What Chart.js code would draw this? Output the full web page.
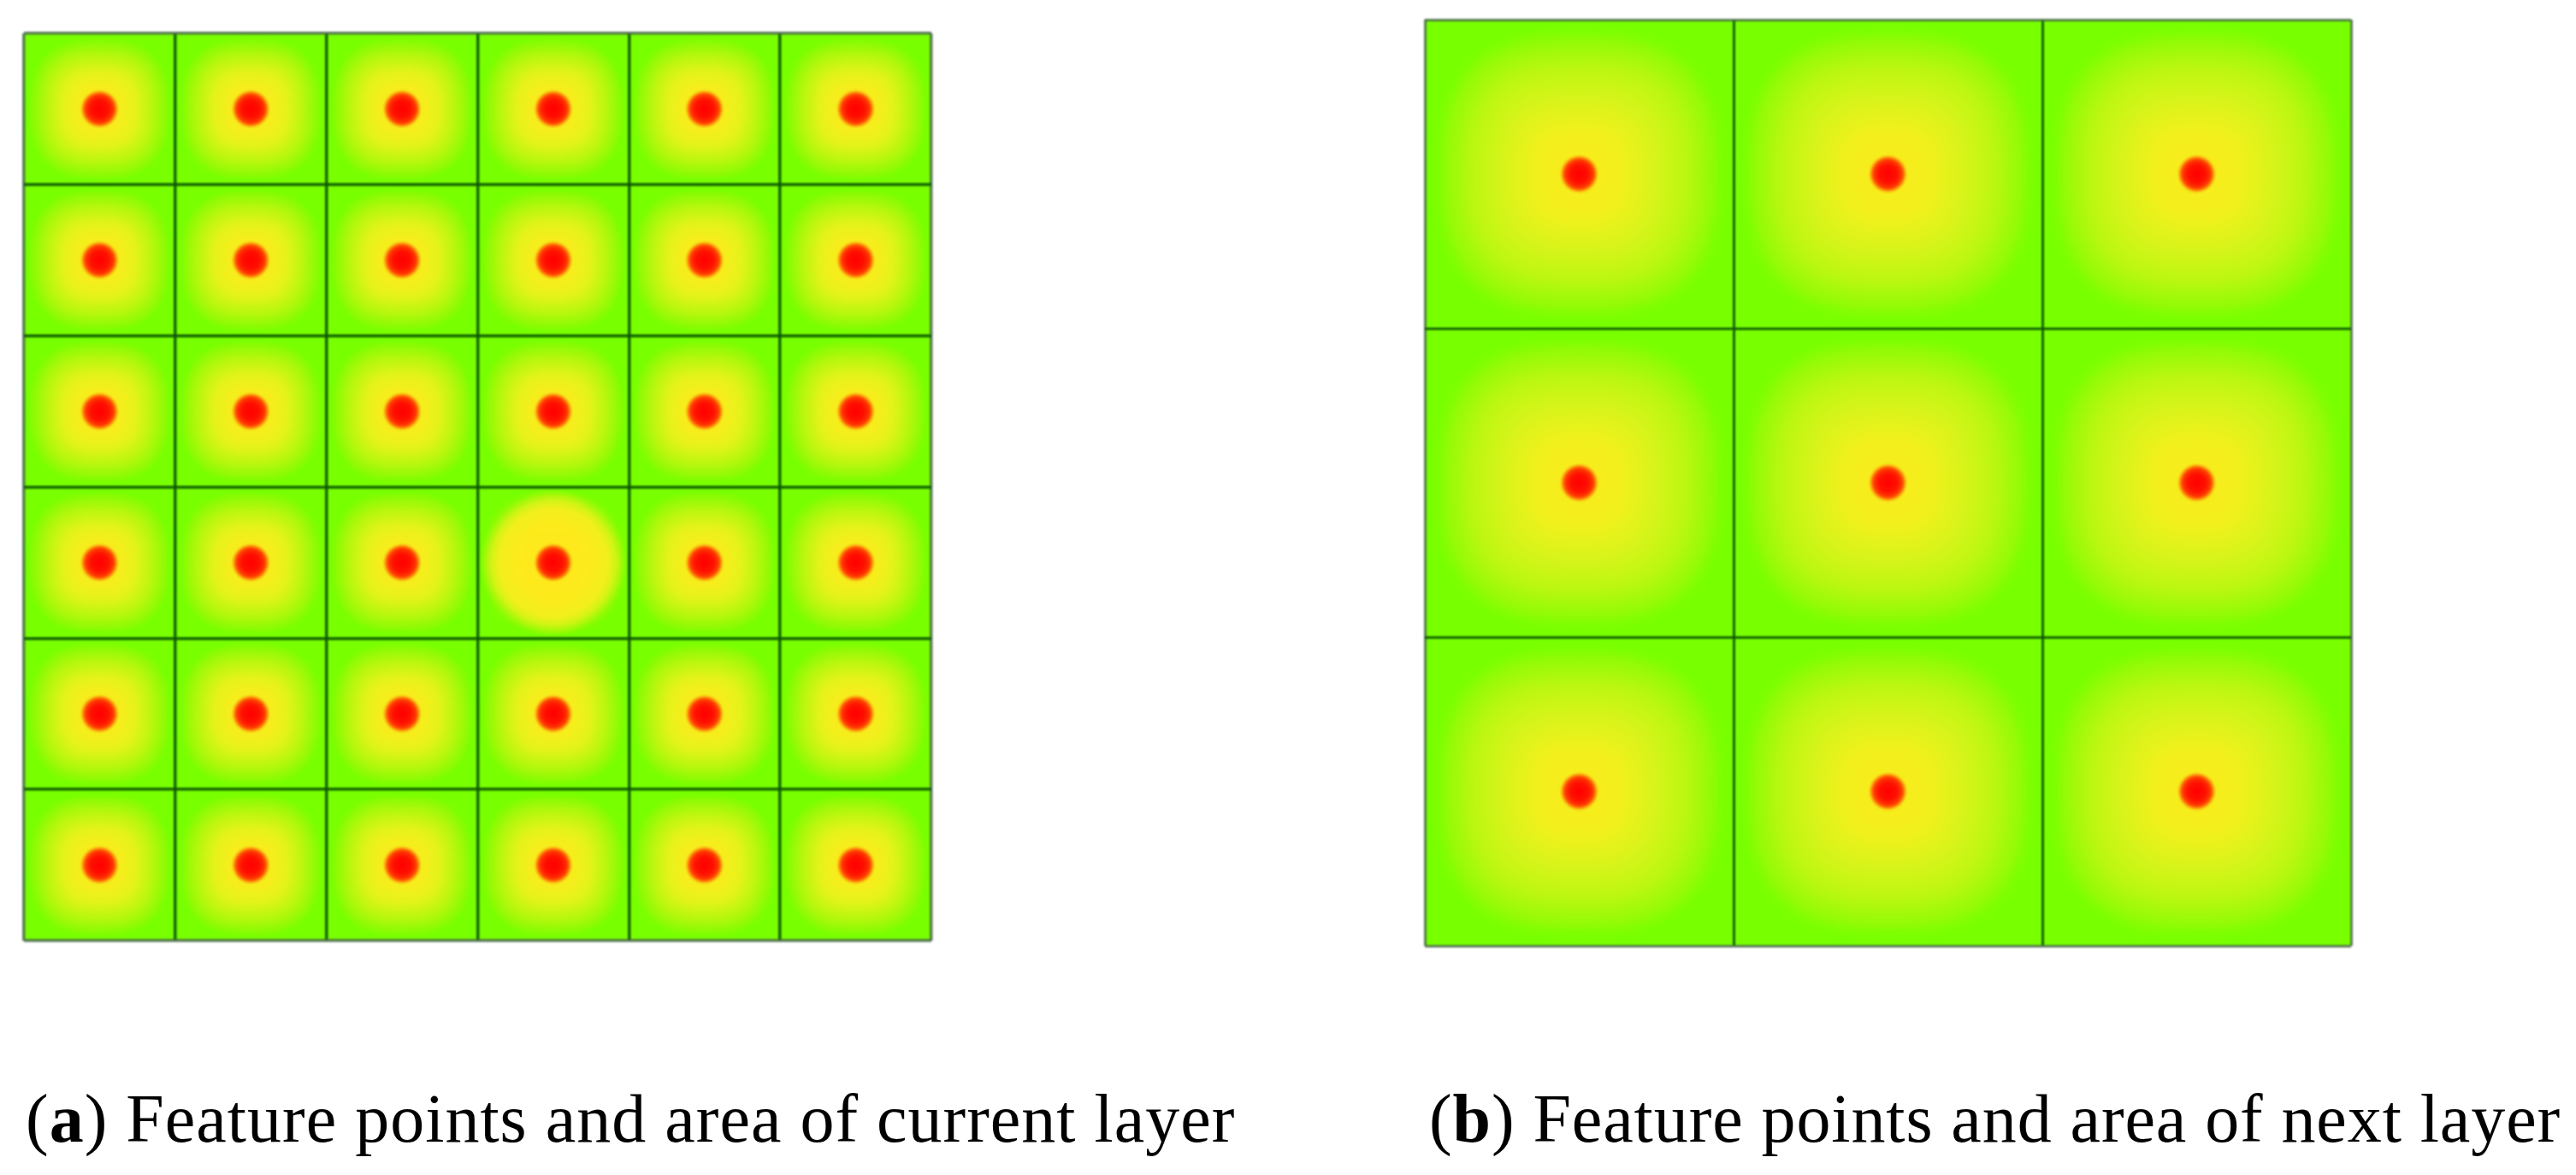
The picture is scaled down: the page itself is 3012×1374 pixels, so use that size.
<!DOCTYPE html>
<html>
<head>
<meta charset="utf-8">
<script src="https://cdn.jsdelivr.net/npm/chart.js@4"></script>
<style>
html,body{margin:0;padding:0;background:#fff;width:3012px;height:1374px;overflow:hidden}
canvas{position:absolute;filter:blur(1.1px)}
.cap{position:absolute;top:1258px;height:100px;line-height:100px;font-family:"Liberation Serif",serif;font-size:80px;color:#000;white-space:nowrap}
</style>
</head>
<body>
<canvas id="a"></canvas>
<canvas id="b"></canvas>
<div class="cap" id="capA" style="left:30px;letter-spacing:1px">(<b>a</b>) Feature points and area of current layer</div>
<div class="cap" id="capB" style="left:1671px;letter-spacing:0.9px">(<b>b</b>) Feature points and area of next layer</div>
<script>
// Data: feature-point cell centres in grid units
const columnsA = [0.5, 1.5, 2.5, 3.5, 4.5, 5.5];
const rowsA    = [0.5, 1.5, 2.5, 3.5, 4.5, 5.5];
const hotColA  = [3.5];
const hotRowA  = [3.5];
const columnsB = [0.5, 1.5, 2.5];
const rowsB    = [0.5, 1.5, 2.5];
const cellsA   = 6;
const cellsB   = 3;

function cross(cols, rows){ const out=[]; rows.forEach(y=>cols.forEach(x=>out.push({x,y}))); return out; }

// colour ramp sprite, contours are a rounded square when p > 2
function sprite(size, p, stops){
  const c=document.createElement('canvas'); c.width=c.height=size;
  const g=c.getContext('2d'), img=g.createImageData(size,size), r=size/2;
  for(let j=0;j<size;j++) for(let i=0;i<size;i++){
    const dx=Math.abs(i+0.5-r)/r, dy=Math.abs(j+0.5-r)/r;
    const d=Math.pow(Math.pow(dx,p)+Math.pow(dy,p),1/p);
    const k=(j*size+i)*4;
    if(d>=1){ img.data[k+3]=0; continue; }
    let s=0; while(s<stops.length-2 && d>stops[s+1][0]) s++;
    const a=stops[s], b=stops[s+1], t=(d-a[0])/(b[0]-a[0]);
    for(let n=0;n<4;n++) img.data[k+n]=a[1][n]+(b[1][n]-a[1][n])*t;
  }
  g.putImageData(img,0,0);
  return c;
}
const glowA=sprite(172,2.7,[[0,[253,234,28,255]],[0.3,[246,238,28,255]],[0.5,[228,243,26,255]],[0.72,[184,247,14,255]],[0.9,[140,251,4,255]],[1,[122,255,0,0]]]);
const hotA =sprite(176,2,[[0,[255,232,28,255]],[0.5,[253,235,28,255]],[0.72,[242,239,28,255]],[0.82,[212,244,22,255]],[0.9,[168,248,10,255]],[1,[122,255,0,0]]]);
const glowB=sprite(354,2.7,[[0,[251,234,28,255]],[0.28,[242,240,28,255]],[0.5,[216,244,26,255]],[0.7,[188,247,17,255]],[0.88,[146,251,6,255]],[1,[122,255,0,0]]]);
const dot  =sprite(46,2,[[0,[255,0,0,255]],[0.45,[255,16,0,255]],[0.72,[255,60,0,255]],[0.86,[253,138,8,220]],[1,[253,220,28,0]]]);

const paintBg={id:'paintBg',beforeDatasetsDraw(ch){
  const a=ch.chartArea,c=ch.ctx; c.save(); c.fillStyle='#78ff00'; c.fillRect(a.left,a.top,a.width,a.height); c.restore();
}};

function axis(n, reverse, lineW){
  return {type:'linear',min:0,max:n,reverse,
    ticks:{display:false,stepSize:1},
    border:{display:false},
    grid:{z:1,drawTicks:false,lineWidth:lineW,
      color:c=>(c.tick.value===0||c.tick.value===n)?'rgba(70,105,70,0.85)':'rgba(10,85,0,0.9)'}};
}
function make(id,left,top,size,n,cols,rows,glow,hotData,hotSprite,lineW){
  const pad=12, el=document.getElementById(id);
  el.style.left=(left-pad)+'px'; el.style.top=(top-pad)+'px';
  el.width=size+2*pad; el.height=size+2*pad;
  el.style.width=(size+2*pad)+'px'; el.style.height=(size+2*pad)+'px';
  const pts=cross(cols,rows);
  // first dataset is painted last
  const datasets=[{label:'Feature points',data:pts,pointStyle:dot,pointRadius:1,pointHoverRadius:1}];
  if(hotData) datasets.push({label:'Current area',data:hotData,pointStyle:hotSprite,pointRadius:1,pointHoverRadius:1});
  datasets.push({label:'Area',data:pts,pointStyle:glow,pointRadius:1,pointHoverRadius:1});
  new Chart(el,{type:'scatter',data:{datasets},plugins:[paintBg],
    options:{responsive:false,animation:false,devicePixelRatio:1,
      layout:{padding:pad},
      plugins:{legend:{display:false},tooltip:{enabled:false},title:{display:false}},
      scales:{x:axis(n,false,lineW),y:axis(n,true,lineW)}}});
}
make('a',28,39,1061,cellsA,columnsA,rowsA,glowA,cross(hotColA,hotRowA),hotA,3.5);
make('b',1666,23,1083,cellsB,columnsB,rowsB,glowB,null,null,3);
</script>
</body>
</html>
